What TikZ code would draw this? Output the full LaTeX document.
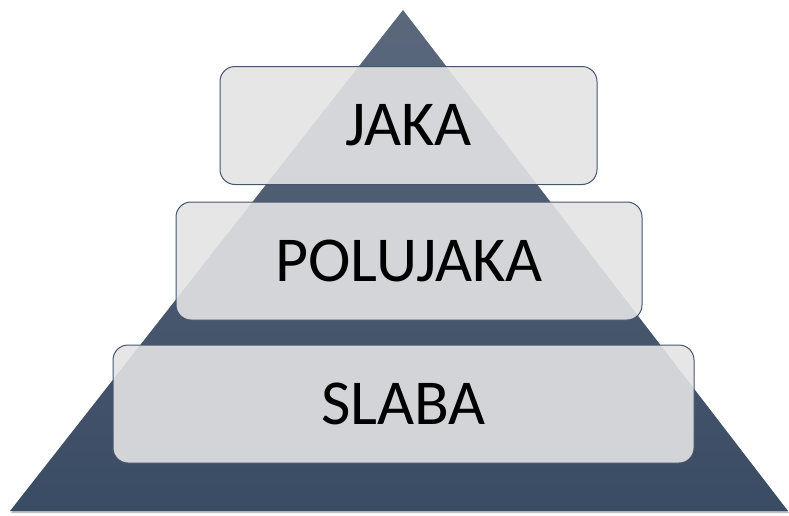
\documentclass[tikz,border=0pt]{standalone}
\usepackage{fontspec}
\setmainfont{Carlito}
\definecolor{pyramidtop}{HTML}{5B687C}
\definecolor{pyramidbottom}{HTML}{3A4B64}
\definecolor{boxline}{HTML}{46566E}
\definecolor{boxfill}{HTML}{E3E3E4}
\begin{document}
\begin{tikzpicture}[x=1pt,y=-1pt,
    level_box/.style={rectangle,rounded corners=15pt,draw=boxline,line width=1pt,
        fill=boxfill,fill opacity=0.9,text opacity=1,inner sep=0pt,
        minimum height=118pt,font=\fontsize{64}{64}\selectfont}]

    \useasboundingbox (0,0) rectangle (789,515);

    % pyramid
    \coordinate (apex) at (403,10);
    \coordinate (left) at (10,511);
    \coordinate (right) at (788,511);
    \fill[black,opacity=0.25] ([xshift=1pt,yshift=-2pt]apex) -- ([xshift=1pt,yshift=-2pt]left) -- ([xshift=1pt,yshift=-2pt]right) -- cycle;
    \shade[top color=pyramidtop,bottom color=pyramidbottom] (apex) -- (left) -- (right) -- cycle;

    % levels
    \node[level_box,minimum width=377pt] (jaka) at (408.5,125.5) {JAKA};
    \node[level_box,minimum width=466pt] (polujaka) at (409,261) {POLUJAKA};
    \node[level_box,minimum width=581pt] (slaba) at (403.5,404) {SLABA};
\end{tikzpicture}
\end{document}
